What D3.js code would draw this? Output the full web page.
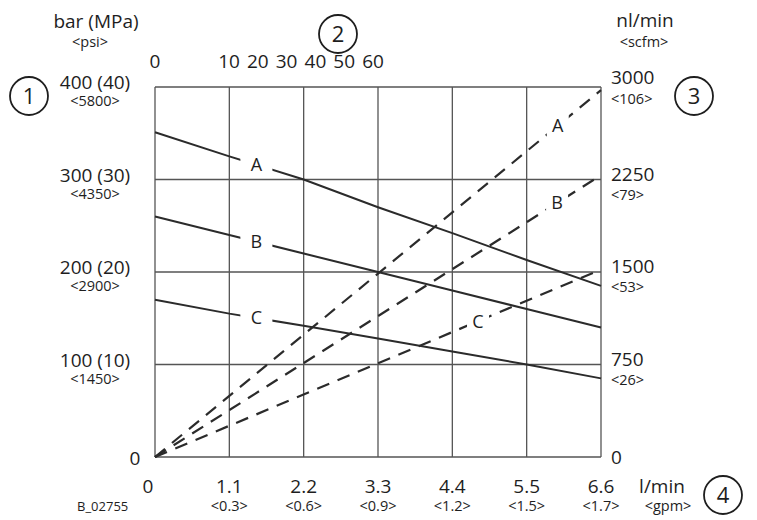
<!DOCTYPE html>
<html>
<head>
<meta charset="utf-8">
<script src="https://cdn.jsdelivr.net/npm/d3@7"></script>
<style>
  body { margin: 0; background: #fff; }
  svg text { font-family: "Open Sans", sans-serif; fill: #1e1e1e; }
</style>
</head>
<body>
<script>
// débit (l/min) et libellés gpm
const flowTicks = [0, 1.1, 2.2, 3.3, 4.4, 5.5, 6.6]
const gpmLabels = ["", "<0.3>", "<0.6>", "<0.9>", "<1.2>", "<1.5>", "<1.7>"]
// pression bar (MPa) <psi>
const pressureTicks = [0, 100, 200, 300, 400]
const pressureLabels = ["0", "100 (10)", "200 (20)", "300 (30)", "400 (40)"]
const psiLabels = ["", "<1450>", "<2900>", "<4350>", "<5800>"]
// consommation d'air nl/min <scfm>
const airTicks = [0, 750, 1500, 2250, 3000]
const scfmLabels = ["", "<26>", "<53>", "<79>", "<106>"]
// axe du haut
const topTicks = [0, 10, 20, 30, 40, 50, 60]

// courbes pression (traits pleins), une valeur par graduation de débit
const pressureA = [351, 325, 300, 270, 242, 213, 185]
const pressureB = [260, 240, 220, 200, 180, 160, 140]
const pressureC = [170, 155, 142, 128, 114, 100, 85]

// courbes consommation d'air (tirets) [débit, nl/min]
const airA = [[0, 0], [6.6, 2975]]
const airB = [[0, 0], [6.5, 2250]]
const airC = [[0, 0], [6.6, 1520]]

const W = 757, H = 520
const svg = d3.select("body").append("svg")
    .attr("width", W)
    .attr("height", H)

const x = d3.scaleLinear().domain([0, 6.6]).range([155, 601])
const yP = d3.scaleLinear().domain([0, 400]).range([457, 87])
const yQ = d3.scaleLinear().domain([0, 3000]).range([457, 87])
const xTop = d3.scaleLinear().domain([0, 10, 60]).range([x(0), 229, 373])

/* ---------------- GRILLE ---------------- */
svg.append("g")
    .selectAll("line")
    .data(flowTicks)
    .join("line")
    .attr("x1", d => x(d)).attr("x2", d => x(d))
    .attr("y1", yP(0)).attr("y2", yP(400))
    .attr("stroke", "#555").attr("stroke-width", 1.3)

svg.append("g")
    .selectAll("line")
    .data(pressureTicks)
    .join("line")
    .attr("x1", x(0)).attr("x2", x(6.6))
    .attr("y1", d => yP(d)).attr("y2", d => yP(d))
    .attr("stroke", "#555").attr("stroke-width", 1.3)

/* ---------------- COURBES ---------------- */
const solid = [
    { name: "A", values: pressureA },
    { name: "B", values: pressureB },
    { name: "C", values: pressureC }
]
const dashed = [
    { name: "A", values: airA, at: 5.96 },
    { name: "B", values: airB, at: 5.95 },
    { name: "C", values: airC, at: 4.78 }
]

const lineP = d3.line()
    .x((d, i) => x(flowTicks[i]))
    .y(d => yP(d))
const lineQ = d3.line()
    .x(d => x(d[0]))
    .y(d => yQ(d[1]))

svg.append("g")
    .selectAll("path")
    .data(solid)
    .join("path")
    .attr("d", d => lineP(d.values))
    .attr("fill", "none")
    .attr("stroke", "#2b2b2b")
    .attr("stroke-width", 2)

svg.append("g")
    .selectAll("path")
    .data(dashed)
    .join("path")
    .attr("d", d => lineQ(d.values))
    .attr("fill", "none")
    .attr("stroke", "#2b2b2b")
    .attr("stroke-width", 2.2)
    .attr("stroke-dasharray", "13,9")

// libellés des courbes, avec un fond blanc qui coupe le trait
const labels = []
solid.forEach(s => {
    const f = 1.5
    const v = d3.scaleLinear().domain(flowTicks).range(s.values)(f)
    labels.push({ name: s.name, cx: x(f), cy: yP(v), w: 32 })
})
dashed.forEach(s => {
    const last = s.values[s.values.length - 1]
    const v = d3.scaleLinear().domain([0, last[0]]).range([0, last[1]])(s.at)
    labels.push({ name: s.name, cx: x(s.at), cy: yQ(v), w: 22 })
})

const lab = svg.append("g").selectAll("g").data(labels).join("g")
lab.append("rect")
    .attr("x", d => d.cx - d.w / 2)
    .attr("y", d => d.cy - 11)
    .attr("width", d => d.w)
    .attr("height", 22)
    .attr("fill", "#fff")
lab.append("text")
    .attr("x", d => d.cx)
    .attr("y", d => d.cy)
    .attr("dy", "0.36em")
    .attr("text-anchor", "middle")
    .style("font-size", "18px")
    .text(d => d.name)

/* ---------------- TEXTES DES AXES ---------------- */
// gauche
const left = svg.append("g")
left.selectAll("text.main")
    .data(pressureTicks)
    .join("text")
    .attr("class", "main")
    .attr("x", (d, i) => i === 0 ? 135 : 95)
    .attr("y", d => yP(d) + (d === 0 ? 8 : 2))
    .attr("text-anchor", "middle")
    .style("font-size", "19px")
    .text((d, i) => pressureLabels[i])
left.selectAll("text.sub")
    .data(pressureTicks)
    .join("text")
    .attr("class", "sub")
    .attr("x", 95)
    .attr("y", d => yP(d) + 19)
    .attr("text-anchor", "middle")
    .style("font-size", "14.5px")
    .text((d, i) => psiLabels[i])

// droite
const right = svg.append("g")
right.selectAll("text.main")
    .data(airTicks)
    .join("text")
    .attr("class", "main")
    .attr("x", 611)
    .attr("y", d => yQ(d) + (d === 0 ? 7 : d === 3000 ? -3 : 1))
    .style("font-size", "19px")
    .text(d => d)
right.selectAll("text.sub")
    .data(airTicks)
    .join("text")
    .attr("class", "sub")
    .attr("x", 611)
    .attr("y", d => yQ(d) + (d === 3000 ? 17 : 20))
    .style("font-size", "14.5px")
    .text((d, i) => scfmLabels[i])

// bas
const bottom = svg.append("g")
bottom.selectAll("text.main")
    .data(flowTicks)
    .join("text")
    .attr("class", "main")
    .attr("x", d => d === 0 ? x(d) - 7 : x(d))
    .attr("y", 493)
    .attr("text-anchor", "middle")
    .style("font-size", "19px")
    .text(d => d)
bottom.selectAll("text.sub")
    .data(flowTicks)
    .join("text")
    .attr("class", "sub")
    .attr("x", d => x(d))
    .attr("y", 511)
    .attr("text-anchor", "middle")
    .style("font-size", "14.5px")
    .text((d, i) => gpmLabels[i])

// haut
svg.append("g")
    .selectAll("text")
    .data(topTicks)
    .join("text")
    .attr("x", d => xTop(d))
    .attr("y", 68)
    .attr("text-anchor", "middle")
    .style("font-size", "19px")
    .text(d => d)

// titres des unités
const units = [
    { t: "bar (MPa)", x: 96, y: 28, s: 19, a: "middle" },
    { t: "<psi>", x: 90, y: 47, s: 14.5, a: "middle" },
    { t: "nl/min", x: 645, y: 27, s: 19, a: "middle" },
    { t: "<scfm>", x: 644, y: 47, s: 14.5, a: "middle" },
    { t: "l/min", x: 662, y: 493, s: 19, a: "middle" },
    { t: "<gpm>", x: 668, y: 511, s: 14.5, a: "middle" },
    { t: "B_02755", x: 77, y: 511, s: 13, a: "start" }
]
svg.append("g")
    .selectAll("text")
    .data(units)
    .join("text")
    .attr("x", d => d.x)
    .attr("y", d => d.y)
    .attr("text-anchor", d => d.a)
    .style("font-size", d => d.s + "px")
    .text(d => d.t)

// repères numérotés
const marks = [
    { n: 1, cx: 29, cy: 96 },
    { n: 2, cx: 338, cy: 34 },
    { n: 3, cx: 694, cy: 96 },
    { n: 4, cx: 723, cy: 495 }
]
const mk = svg.append("g").selectAll("g").data(marks).join("g")
mk.append("circle")
    .attr("cx", d => d.cx)
    .attr("cy", d => d.cy)
    .attr("r", 19)
    .attr("fill", "none")
    .attr("stroke", "#1e1e1e")
    .attr("stroke-width", 1.8)
mk.append("text")
    .attr("x", d => d.cx)
    .attr("y", d => d.cy)
    .attr("dy", "0.36em")
    .attr("text-anchor", "middle")
    .style("font-size", "22px")
    .text(d => d.n)
</script>
</body>
</html>
